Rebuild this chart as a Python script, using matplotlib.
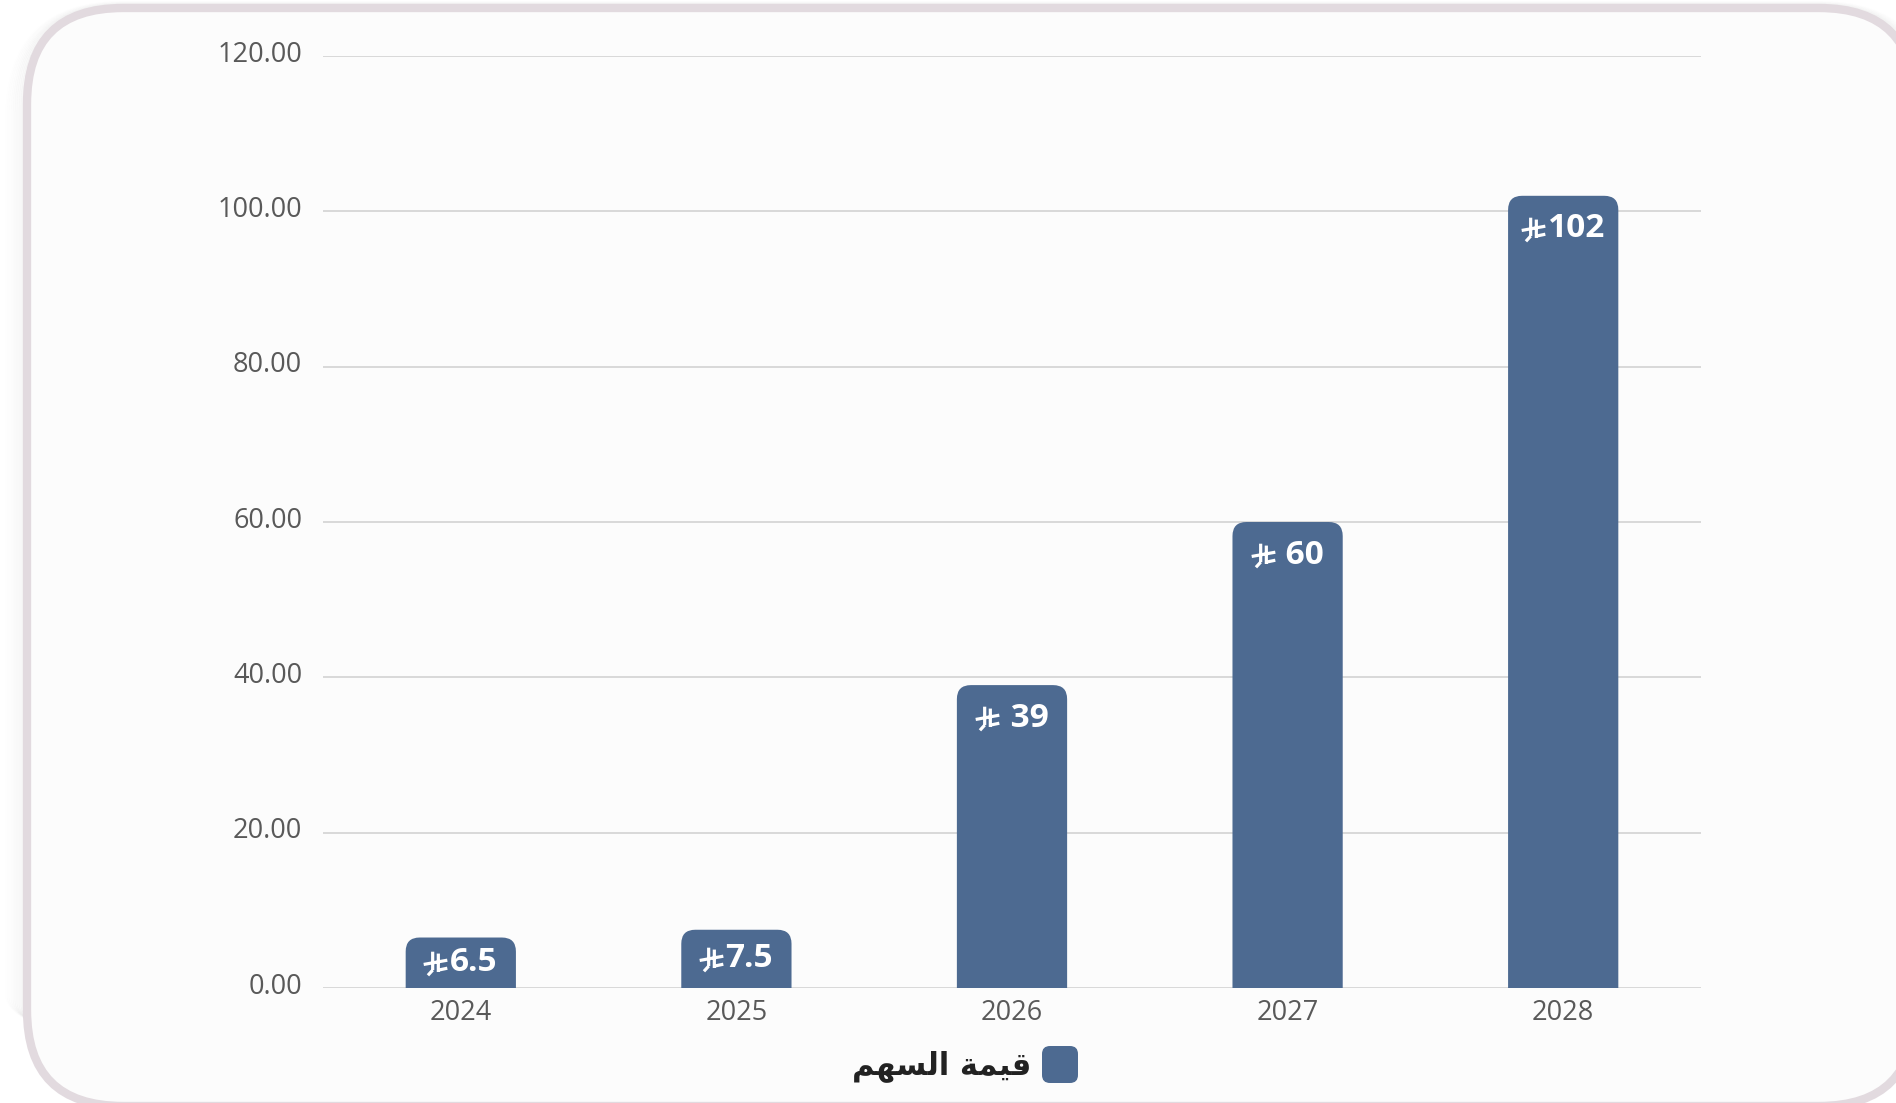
import numpy as np
import matplotlib
matplotlib.use("Agg")
import matplotlib.pyplot as plt
from matplotlib.patches import FancyBboxPatch
from matplotlib.path import Path
from matplotlib.transforms import ScaledTranslation

# data
years = ["2024", "2025", "2026", "2027", "2028"]
values = [6.5, 7.5, 39, 60, 102]
value_labels = ["6.5", "7.5", " 39", " 60", "102"]
y_ticks = [0, 20, 40, 60, 80, 100, 120]
series_name = "قيمة السهم"
# visual-order presentation forms (matplotlib does no Arabic shaping)
series_name_shaped = "\uFEE2\uFEEC\uFEB4\uFEDF\uFE8D \uFE94\uFEE4\uFEF4\uFED7"

BAR = "#4d6a91"
TXT = "#595959"
GRID = "#d9d9d9"

W, H = 1896, 1103
fig = plt.figure(figsize=(W / 100, H / 100), dpi=100)
fig.patch.set_facecolor("white")

# background card (pixel coordinates)
bg = fig.add_axes([0, 0, 1, 1], zorder=-5)
bg.set_xlim(0, W)
bg.set_ylim(H, 0)
bg.axis("off")
for k in range(1, 22, 2):
    bg.add_patch(FancyBboxPatch((27 - k, 8 - k * 0.3), 1888 + 2 * k, 1098 + k * 0.6,
                                boxstyle=f"round,pad=0,rounding_size={96 + k}",
                                fc="none", ec="#000000", lw=1.6, alpha=0.035 * (1 - k / 23)))
bg.add_patch(FancyBboxPatch((27, 8), 1888, 1098, boxstyle="round,pad=0,rounding_size=96",
                            fc="#fcfcfc", ec="#e2dadf", lw=6))

# legend (manual)
bg.add_patch(FancyBboxPatch((1042, 1046), 36, 37, boxstyle="round,pad=0,rounding_size=8",
                            fc=BAR, ec="none"))
bg.text(1031, 1066, series_name_shaped, ha="right", va="center", fontsize=22,
        fontweight="bold", color="#222222", family=["DejaVu Sans"])

# main axes
ax = fig.add_axes([323 / W, 1 - 988 / H, (1701 - 323) / W, (988 - 56) / H])
ax.set_facecolor("none")
x = np.arange(len(years))
ax.set_xlim(-0.5, len(years) - 0.5)
ax.set_ylim(0, 120)
ax.set_yticks(y_ticks)
ax.set_yticklabels([f"{t:.2f}" for t in y_ticks])
ax.set_xticks(x)
ax.set_xticklabels(years)
for s in ax.spines.values():
    s.set_visible(False)
ax.grid(axis="y", color=GRID, lw=1.4)
ax.set_axisbelow(True)
ax.tick_params(length=0, labelsize=19.5, labelcolor=TXT)
ax.tick_params(axis="y", pad=15)
ax.tick_params(axis="x", pad=8)
for lab in ax.get_xticklabels() + ax.get_yticklabels():
    lab.set_family("Open Sans")
for lab in ax.get_yticklabels():
    lab.set_transform(lab.get_transform() + ScaledTranslation(0, 3.5 / 72, fig.dpi_scale_trans))

# bars with rounded tops
bars = ax.bar(x, values, width=0.4, color=BAR)
fig.canvas.draw()
px_x = ax.transData.transform((1, 0))[0] - ax.transData.transform((0, 0))[0]
px_y = ax.transData.transform((0, 1))[1] - ax.transData.transform((0, 0))[1]
aspect = px_x / px_y
rad = 14 / px_x
for b in bars:
    bx, bw, bh = b.get_x(), b.get_width(), b.get_height()
    b.set_visible(False)
    ax.add_patch(FancyBboxPatch((bx, -6), bw, bh + 6,
                                boxstyle=f"round,pad=0,rounding_size={rad}",
                                mutation_aspect=aspect, fc=BAR, ec="none", zorder=2))

# riyal sign as a path marker
sar = Path([(-0.12, 0.5), (-0.12, -0.28), (-0.12, -0.28), (-0.32, -0.5),
            (0.12, 0.42), (0.12, -0.36),
            (-0.5, -0.04), (0.5, 0.14),
            (0.12, -0.28), (0.5, -0.2)],
           [Path.MOVETO, Path.LINETO, Path.MOVETO, Path.LINETO,
            Path.MOVETO, Path.LINETO,
            Path.MOVETO, Path.LINETO,
            Path.MOVETO, Path.LINETO])

r = fig.canvas.get_renderer()
off = 33 / px_y
sym_w, gap = 23, 3
inv = ax.transData.inverted()
for i, (v, lab) in enumerate(zip(values, value_labels)):
    y = max(v - off, v / 2)
    t = ax.text(i, y, lab, ha="left", va="center", color="white", fontsize=24,
                fontweight="bold", family="Open Sans", zorder=4)
    w = t.get_window_extent(r).width
    cx, cy = ax.transData.transform((i, y))
    x0 = cx - (sym_w + gap + w) / 2
    t.set_x(inv.transform((x0 + sym_w + gap, cy))[0])
    sx = inv.transform((x0 + sym_w / 2, cy))[0]
    ax.plot([sx], [y], marker=sar, ms=17, mew=2.3, mec="white", mfc="none",
            ls="none", zorder=4)

fig.savefig("out.png", dpi=100)
